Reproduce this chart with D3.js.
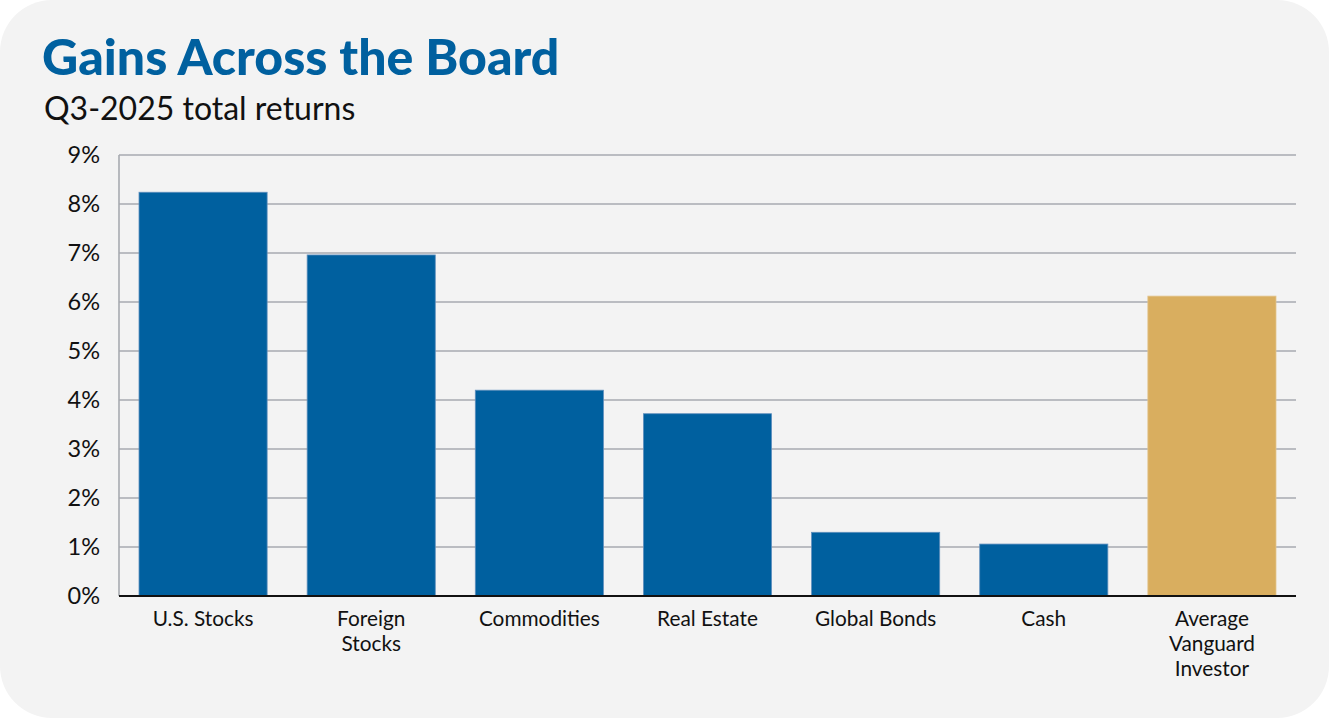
<!DOCTYPE html>
<html>
<head>
<meta charset="utf-8">
<script src="https://cdn.jsdelivr.net/npm/d3@7"></script>
<style>
  body { margin: 0; background: #fff; }
  svg { display: block; font-family: Lato, "Open Sans", sans-serif; }
</style>
</head>
<body>
<svg id="chart" width="1329" height="720"></svg>
<script>
const categories = ['U.S. Stocks', 'Foreign Stocks', 'Commodities', 'Real Estate', 'Global Bonds', 'Cash', 'Average Vanguard Investor'];
const labelLines = [['U.S. Stocks'], ['Foreign', 'Stocks'], ['Commodities'], ['Real Estate'], ['Global Bonds'], ['Cash'], ['Average', 'Vanguard', 'Investor']];
const returns = [8.24, 6.96, 4.2, 3.72, 1.3, 1.06, 6.12];
const yTicks = [0, 1, 2, 3, 4, 5, 6, 7, 8, 9];

const width = 1329, height = 720;
const margin = { top: 155, right: 33, bottom: 124, left: 119 };
const blue = '#00609f', gold = '#d9ae5f';

const svg = d3.select('#chart');

// card background
svg.append('rect')
  .attr('x', 0).attr('y', 0)
  .attr('width', width).attr('height', height - 2)
  .attr('rx', 52).attr('ry', 52)
  .attr('fill', '#f3f3f3');

svg.append('text')
  .attr('x', 42).attr('y', 75)
  .attr('fill', blue)
  .style('font-size', '50px')
  .style('font-weight', 900)
  .text('Gains Across the Board');

svg.append('text')
  .attr('x', 44).attr('y', 120)
  .attr('fill', '#111')
  .style('font-size', '32px')
  .text('Q3-2025 total returns');

const x = d3.scaleBand()
  .domain(categories)
  .range([margin.left, width - margin.right])
  .paddingInner(0.238)
  .paddingOuter(0.119);

const y = d3.scaleLinear()
  .domain([0, 9])
  .range([height - margin.bottom, margin.top]);

// gridlines
svg.append('g')
  .selectAll('line')
  .data(yTicks.filter(d => d > 0))
  .enter()
  .append('line')
  .attr('x1', margin.left).attr('x2', width - margin.right)
  .attr('y1', d => y(d)).attr('y2', d => y(d))
  .attr('stroke', '#a7aab0')
  .attr('stroke-width', 1.6);

// left axis line
svg.append('line')
  .attr('x1', margin.left).attr('x2', margin.left)
  .attr('y1', y(9)).attr('y2', y(0))
  .attr('stroke', '#a7aab0')
  .attr('stroke-width', 1.6);

// y tick labels
svg.append('g')
  .selectAll('text')
  .data(yTicks)
  .enter()
  .append('text')
  .attr('x', 100)
  .attr('y', d => y(d))
  .attr('dy', '0.36em')
  .attr('text-anchor', 'end')
  .attr('fill', '#111')
  .style('font-size', '23.5px')
  .text(d => d + '%');

// bars
svg.append('g')
  .selectAll('rect')
  .data(returns)
  .enter()
  .append('rect')
  .attr('x', (d, i) => x(categories[i]))
  .attr('y', d => y(d))
  .attr('width', x.bandwidth())
  .attr('height', d => y(0) - y(d))
  .attr('fill', (d, i) => i == categories.length - 1 ? gold : blue)
  .attr('stroke', (d, i) => i == categories.length - 1 ? '#e2c48c' : '#5f8fbd')
  .attr('stroke-width', 0.8);

// baseline
svg.append('line')
  .attr('x1', margin.left).attr('x2', width - margin.right)
  .attr('y1', y(0)).attr('y2', y(0))
  .attr('stroke', '#111')
  .attr('stroke-width', 1.8);

// x labels
const xl = svg.append('g')
  .selectAll('text')
  .data(categories)
  .enter()
  .append('text')
  .attr('text-anchor', 'middle')
  .attr('fill', '#111')
  .style('font-size', '20.8px')
  .attr('transform', d => 'translate(' + (x(d) + x.bandwidth() / 2) + ',' + (y(0) + 30) + ')');

xl.selectAll('tspan')
  .data((d, i) => labelLines[i])
  .enter()
  .append('tspan')
  .attr('x', 0)
  .attr('dy', (d, i) => i == 0 ? 0 : 25)
  .text(d => d);
</script>
</body>
</html>
